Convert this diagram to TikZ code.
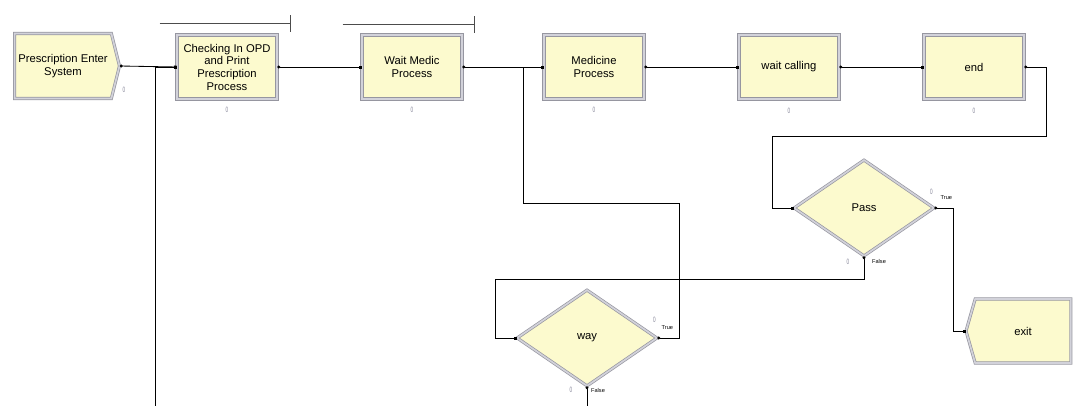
\documentclass[tikz,border=0pt]{standalone}
\usepackage{fontspec}
\setmainfont{Liberation Sans}
\usetikzlibrary{positioning,shapes.geometric,shapes.symbols,arrows.meta}
\definecolor{modfill}{RGB}{252,250,206}
\definecolor{modedge}{RGB}{150,150,160}
\definecolor{modbevel}{RGB}{210,210,218}
\definecolor{cntgray}{RGB}{130,130,150}

\begin{document}
\begin{tikzpicture}[
    x=0.025cm, y=-0.025cm,
    every node/.style={font=\fontsize{8}{9}\selectfont},
    module/.style={draw=modedge, line width=0.5pt, double=modbevel, double distance=1.2pt, fill=modfill, align=center, inner sep=1pt},
    process/.style={module, rectangle, minimum width=2.5cm, minimum height=1.6cm},
    decide/.style={module, diamond, minimum width=3.5cm, minimum height=2.4cm, inner sep=0pt},
    create/.style={module, signal, signal to=east, signal pointer angle=152, minimum width=2.62cm, minimum height=1.625cm},
    dispose/.style={module, signal, signal to=west, signal pointer angle=148, minimum width=2.62cm, minimum height=1.6cm},
    conn/.style={line width=0.6pt, {Circle[length=2pt]}-{Square[length=2pt]}},
    queue/.style={draw=black!70, line width=0.5pt, -{Bar[width=12pt]}},
    count/.style={font=\fontsize{5.5}{5.5}\selectfont, text=cntgray, inner sep=0pt, xscale=0.6},
    tag/.style={font=\fontsize{4}{4}\selectfont, inner sep=0pt}
]
\useasboundingbox (0,0) rectangle (1078,406);
\clip (0,0) rectangle (1078,406);

% modules
\node[create] (enter) at (63,66) {Prescription Enter\\System};
\node[process] (chk) at (227,67) {Checking In OPD\\and Print\\Prescription\\Process};
\node[process] (waitm) at (412,67) {Wait Medic\\Process};
\node[process] (med) at (594,67) {Medicine\\Process};
\node[process] (wcall) at (789,67) {wait calling};
\node[process] (fin) at (974,67) {end};
\node[decide] (pass) at (864,208) {Pass};
\node[decide] (way) at (587,338) {way};
\node[dispose] (exit) at (1023,331) {exit};

% queues
\draw[queue] ([shift={(-17,-11)}]chk.north west) -- ([shift={(13,-11)}]chk.north east);
\draw[queue] ([shift={(-19,-10)}]waitm.north west) -- ([shift={(12,-10)}]waitm.north east);

% counters
\node[count] at ([shift={(4,24)}]enter.east) {0};
\node[count, below=5pt of chk] {0};
\node[count, below=5pt of waitm] {0};
\node[count, below=5pt of med] {0};
\node[count, below=6pt of wcall] {0};
\node[count, below=6pt of fin] {0};
\node[count] at ([shift={(-3,-18)}]way.east) {0};
\node[count] at ([shift={(-16,3)}]way.south) {0};
\node[count] at ([shift={(-3,-16)}]pass.east) {0};
\node[count] at ([shift={(-16,5)}]pass.south) {0};
\node[tag] at ([shift={(10,-10)}]way.east) {True};
\node[tag] at ([shift={(11,4)}]way.south) {False};
\node[tag] at ([shift={(12,-10)}]pass.east) {True};
\node[tag] at ([shift={(15,5)}]pass.south) {False};

% connections
\draw[conn] (enter.east) -- (chk.west);
\draw[conn] (chk.east) -- (waitm.west);
\draw[conn] (waitm.east) -- (med.west);
\draw[conn] (med.east) -- (wcall.west);
\draw[conn] (wcall.east) -- (fin.west);
\draw[conn] (fin.east) -- ++(22,0) |- (772,136) |- (pass.west);
\draw[conn] (pass.east) -- ++(19,0) |- (exit.west);
\draw[conn] (pass.south) |- (495,279) |- (way.west);
\draw[conn] (way.east) -- ++(22,0) |- (523,203) |- (med.west);
\draw[conn] (way.south) |- (155,412) |- (chk.west);
\end{tikzpicture}
\end{document}
